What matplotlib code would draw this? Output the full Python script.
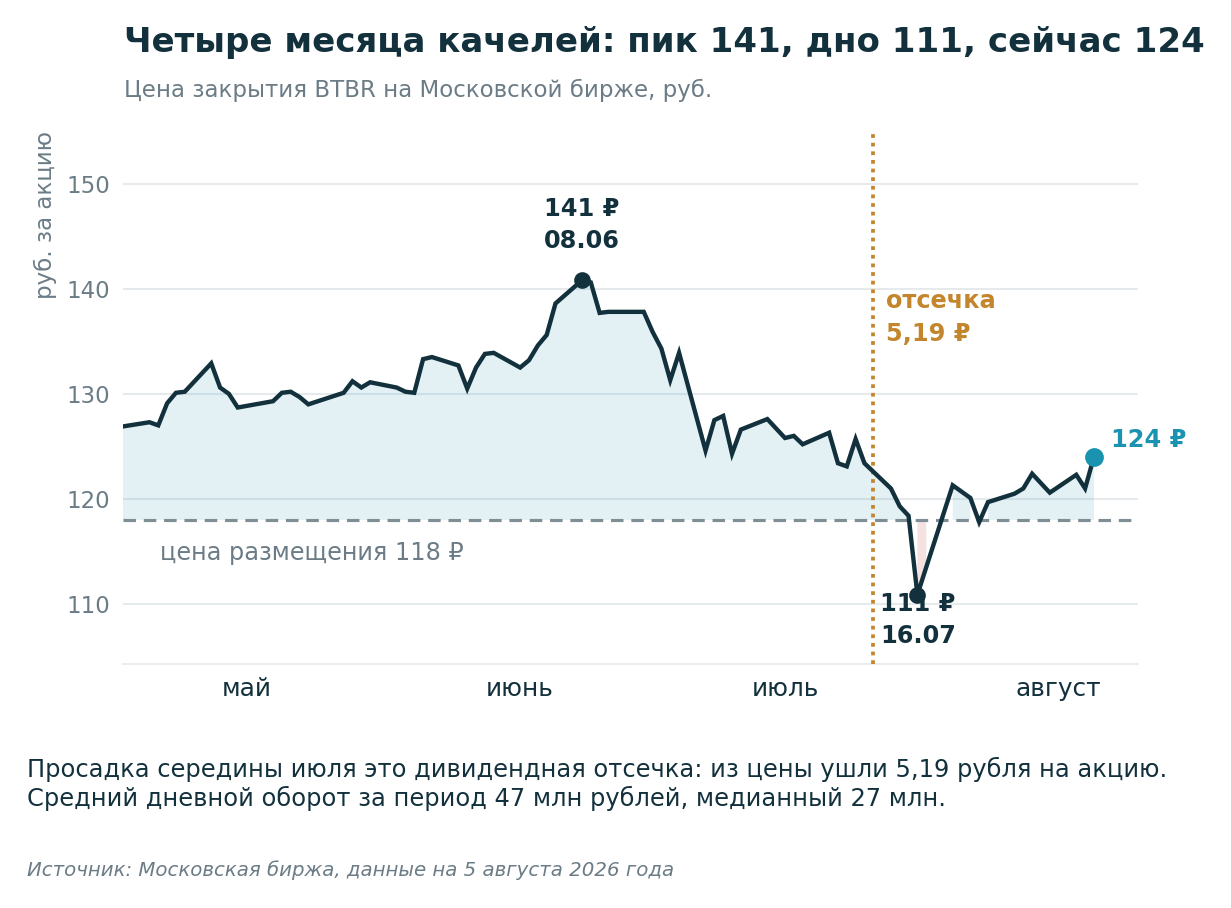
import numpy as np
import pandas as pd
import matplotlib
matplotlib.use("Agg")
import matplotlib.pyplot as plt

# closing prices, BTBR, trading days
dates = [
    "2026-04-17", "2026-04-20", "2026-04-21", "2026-04-22", "2026-04-23", "2026-04-24",
    "2026-04-27", "2026-04-28", "2026-04-29", "2026-04-30",
    "2026-05-04", "2026-05-05", "2026-05-06", "2026-05-07", "2026-05-08",
    "2026-05-12", "2026-05-13", "2026-05-14", "2026-05-15",
    "2026-05-18", "2026-05-19", "2026-05-20", "2026-05-21", "2026-05-22",
    "2026-05-25", "2026-05-26", "2026-05-27", "2026-05-28", "2026-05-29",
    "2026-06-01", "2026-06-02", "2026-06-03", "2026-06-04", "2026-06-05",
    "2026-06-08", "2026-06-09", "2026-06-10", "2026-06-11",
    "2026-06-15", "2026-06-16", "2026-06-17", "2026-06-18", "2026-06-19",
    "2026-06-22", "2026-06-23", "2026-06-24", "2026-06-25", "2026-06-26",
    "2026-06-29", "2026-06-30", "2026-07-01", "2026-07-02", "2026-07-03",
    "2026-07-06", "2026-07-07", "2026-07-08", "2026-07-09", "2026-07-10",
    "2026-07-13", "2026-07-14", "2026-07-15", "2026-07-16", "2026-07-17",
    "2026-07-20", "2026-07-21", "2026-07-22", "2026-07-23", "2026-07-24",
    "2026-07-27", "2026-07-28", "2026-07-29", "2026-07-30", "2026-07-31",
    "2026-08-03", "2026-08-04", "2026-08-05",
]
prices = [
    126.9, 127.3, 127.0, 129.1, 130.1, 130.2,
    132.9, 130.6, 130.0, 128.7,
    129.3, 130.1, 130.2, 129.7, 129.0,
    130.1, 131.2, 130.6, 131.1,
    130.6, 130.2, 130.1, 133.3, 133.5,
    132.7, 130.5, 132.5, 133.8, 133.9,
    132.5, 133.2, 134.6, 135.6, 138.6,
    140.8, 140.6, 137.7, 137.8,
    137.8, 135.9, 134.3, 131.3, 133.9,
    124.6, 127.5, 127.9, 124.3, 126.6,
    127.6, 126.7, 125.8, 126.0, 125.2,
    126.3, 123.4, 123.1, 125.7, 123.4,
    121.0, 119.3, 118.4, 110.9, 113.5,
    121.3, 120.7, 120.1, 117.8, 119.7,
    120.5, 121.0, 122.4, 121.5, 120.6,
    122.3, 121.0, 124.0,
]
ipo_price = 118
cutoff_date = "2026-07-11"
dividend = "5,19"
month_ticks = ["2026-05-01", "2026-06-01", "2026-07-01", "2026-08-01"]
month_labels = ["май", "июнь", "июль", "август"]
yticks = [110, 120, 130, 140, 150]

DARK = "#12313d"
GREY = "#6b7c86"
TEAL = "#1a93b0"
GOLD = "#c4862c"
GRID = "#e6eaed"
ANN = 11.5


def main():
    x = pd.to_datetime(dates)
    y = np.array(prices)

    fig = plt.figure(figsize=(1231 / 150, 908 / 150), dpi=150)
    ax = fig.add_axes([0.0999, 0.2687, 0.8246, 0.587])

    ax.fill_between(x, y, ipo_price, where=y >= ipo_price, color=TEAL,
                    alpha=0.12, lw=0, interpolate=False)
    ax.fill_between(x, y, ipo_price, where=y < ipo_price, color="#c0392b",
                    alpha=0.15, lw=0, interpolate=False)
    ax.axhline(ipo_price, color="#7f8d95", lw=1.5, dashes=(4, 2.5), zorder=3)
    ax.axvline(pd.Timestamp(cutoff_date), color=GOLD, lw=1.8, ls=(0, (1, 1.3)),
               zorder=3)
    ax.plot(x, y, color=DARK, lw=2.1, zorder=4, solid_joinstyle="miter")

    i_max = int(np.argmax(y))
    i_min = int(np.argmin(y))
    ax.plot(x[i_max], y[i_max], "o", color=DARK, ms=7, zorder=5)
    ax.plot(x[i_min], y[i_min], "o", color=DARK, ms=7, zorder=5)
    ax.plot(x[-1], y[-1], "o", color=TEAL, ms=8, zorder=5)

    ax.set_xlim(pd.Timestamp("2026-04-17"), pd.Timestamp("2026-08-10"))
    ax.set_ylim(104.3, 155)
    ax.set_yticks(yticks)
    ax.set_xticks(pd.to_datetime(month_ticks))
    ax.set_xticklabels(month_labels)
    ax.grid(axis="y", color=GRID, lw=1)
    ax.set_axisbelow(True)
    for s in ["top", "right", "left"]:
        ax.spines[s].set_visible(False)
    ax.spines["bottom"].set_color(GRID)
    ax.tick_params(axis="both", length=0)
    ax.tick_params(axis="y", colors=GREY, pad=6, labelsize=11)
    ax.tick_params(axis="x", colors=DARK, pad=6, labelsize=11.9)

    ax.text(-0.0768, 1.0, "руб. за акцию", transform=ax.transAxes, rotation=90,
            ha="center", va="top", fontsize=11, color=GREY)

    # annotations
    ax.annotate("141 ₽", xy=(x[i_max], y[i_max]), xytext=(0, 34),
                textcoords="offset points", ha="center", va="center",
                fontsize=ANN, fontweight="bold", color=DARK)
    ax.annotate(x[i_max].strftime("%d.%m"), xy=(x[i_max], y[i_max]), xytext=(0, 18.7),
                textcoords="offset points", ha="center", va="center",
                fontsize=ANN, fontweight="bold", color=DARK)
    ax.annotate("111 ₽", xy=(x[i_min], y[i_min]), xytext=(-18, -4.3),
                textcoords="offset points", ha="left", va="center",
                fontsize=ANN, fontweight="bold", color=DARK, zorder=6)
    ax.annotate(x[i_min].strftime("%d.%m"), xy=(x[i_min], y[i_min]), xytext=(-18, -19.7),
                textcoords="offset points", ha="left", va="center",
                fontsize=ANN, fontweight="bold", color=DARK)
    ax.annotate("124 ₽", xy=(x[-1], y[-1]), xytext=(8, 8),
                textcoords="offset points", ha="left", va="center",
                fontsize=ANN, fontweight="bold", color=TEAL)
    ax.annotate("отсечка", xy=(pd.Timestamp(cutoff_date), 138.8), xytext=(6, 0),
                textcoords="offset points", ha="left", va="center",
                fontsize=ANN, fontweight="bold", color=GOLD)
    ax.annotate(dividend + " ₽", xy=(pd.Timestamp(cutoff_date), 135.7), xytext=(6, 0),
                textcoords="offset points", ha="left", va="center",
                fontsize=ANN, fontweight="bold", color=GOLD)
    ax.annotate("цена размещения 118 ₽", xy=(x[0], ipo_price), xytext=(18, -16),
                textcoords="offset points", ha="left", va="center",
                fontsize=11.5, color=GREY)

    fig.text(0.1007, 0.9427, "Четыре месяца качелей: пик 141, дно 111, сейчас 124",
             fontsize=16.35, fontweight="bold", color=DARK, ha="left", va="baseline")
    fig.text(0.1007, 0.8932, "Цена закрытия BTBR на Московской бирже, руб.",
             fontsize=11, color=GREY, ha="left", va="baseline")
    fig.text(0.0219, 0.1443,
             "Просадка середины июля это дивидендная отсечка: из цены ушли 5,19 рубля на акцию.",
             fontsize=11.6, color=DARK, ha="left", va="baseline")
    fig.text(0.0219, 0.1123,
             "Средний дневной оборот за период 47 млн рублей, медианный 27 млн.",
             fontsize=11.6, color=DARK, ha="left", va="baseline")
    fig.text(0.0219, 0.0352,
             "Источник: Московская биржа, данные на 5 августа 2026 года",
             fontsize=9.5, style="italic", color=GREY, ha="left", va="baseline")

    fig.savefig("out.png", dpi=150)


if __name__ == "__main__":
    main()
